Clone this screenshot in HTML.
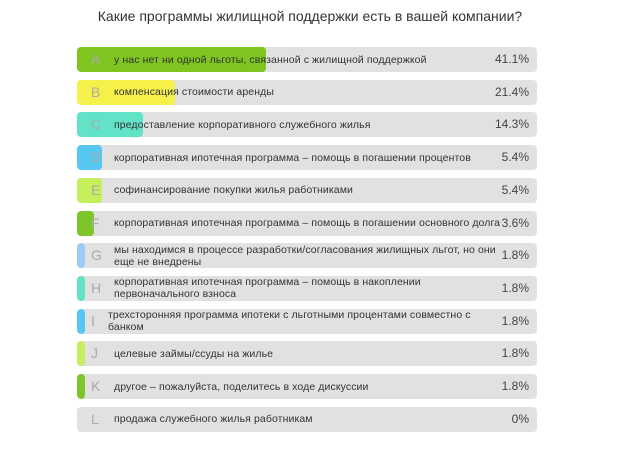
<!DOCTYPE html>
<html><head><meta charset="utf-8"><style>
body{margin:0;width:620px;height:473px;background:#fff;font-family:"Liberation Sans","Noto Sans CJK SC",sans-serif;position:relative;overflow:hidden}
.title{position:absolute;left:0;width:620px;top:8px;text-align:center;font-size:14px;color:#333}
.row{position:absolute;left:77px;width:460px;height:25px;background:#e1e1e1;border-radius:4px;overflow:hidden}
.fill{position:absolute;left:0;top:0;bottom:0;border-radius:4px}
.let{position:absolute;left:14px;top:0;line-height:25px;font-size:14px;color:#aaa}
.lab{position:absolute;left:37px;right:36px;top:0;height:25px;display:flex;align-items:center;font-size:10.5px;color:#333;line-height:12px;letter-spacing:0.1px}
.pct{position:absolute;right:8px;top:0;line-height:25px;font-size:12px;color:#444}
</style></head><body>
<div class="title">Какие программы жилищной поддержки есть в вашей компании?</div>
<div id="rows"></div>
<script>
const letters=["A","B","C","D","E","F","G","H","I","J","K","L"];
const labels=["у нас нет ни одной льготы, связанной с жилищной поддержкой","компенсация стоимости аренды","предоставление корпоративного служебного жилья","корпоративная ипотечная программа – помощь в погашении процентов","софинансирование покупки жилья работниками","корпоративная ипотечная программа – помощь в погашении основного долга","мы находимся в процессе разработки/согласования жилищных льгот, но они еще не внедрены","корпоративная ипотечная программа – помощь в накоплении первоначального взноса","трехсторонняя программа ипотеки с льготными процентами совместно с банком","целевые займы/ссуды на жилье","другое – пожалуйста, поделитесь в ходе дискуссии","продажа служебного жилья работникам"];
const values=[41.1,21.4,14.3,5.4,5.4,3.6,1.8,1.8,1.8,1.8,1.8,0];
const colors=["#7ec51f","#f6f04a","#62e2c6","#56c7f1","#c6ef5c","#7ec52a","#9ecbf4","#62e2c6","#56c7f1","#c6ef5c","#7ec52a","#e1e1e1"];
const W=460,top0=47,step=32.7;
const x=v=>v/100*W;
const root=document.getElementById('rows');
values.forEach((v,i)=>{
 const r=document.createElement('div');r.className='row';r.style.top=(top0+i*step)+'px';
 
 
 const f=document.createElement('div');f.className='fill';f.style.width=x(v)+'px';f.style.background=colors[i];
 
 
 const l=document.createElement('div');l.className='let';l.textContent=letters[i];
 
 
 const t=document.createElement('div');t.className='lab';t.textContent=labels[i];
 if(letters[i]==='I'){t.style.left='31px';}
 
 
 const p=document.createElement('div');p.className='pct';p.textContent=v+'%';
 
 
 r.append(f,l,t,p);root.appendChild(r);
});
</script>
</body></html>
